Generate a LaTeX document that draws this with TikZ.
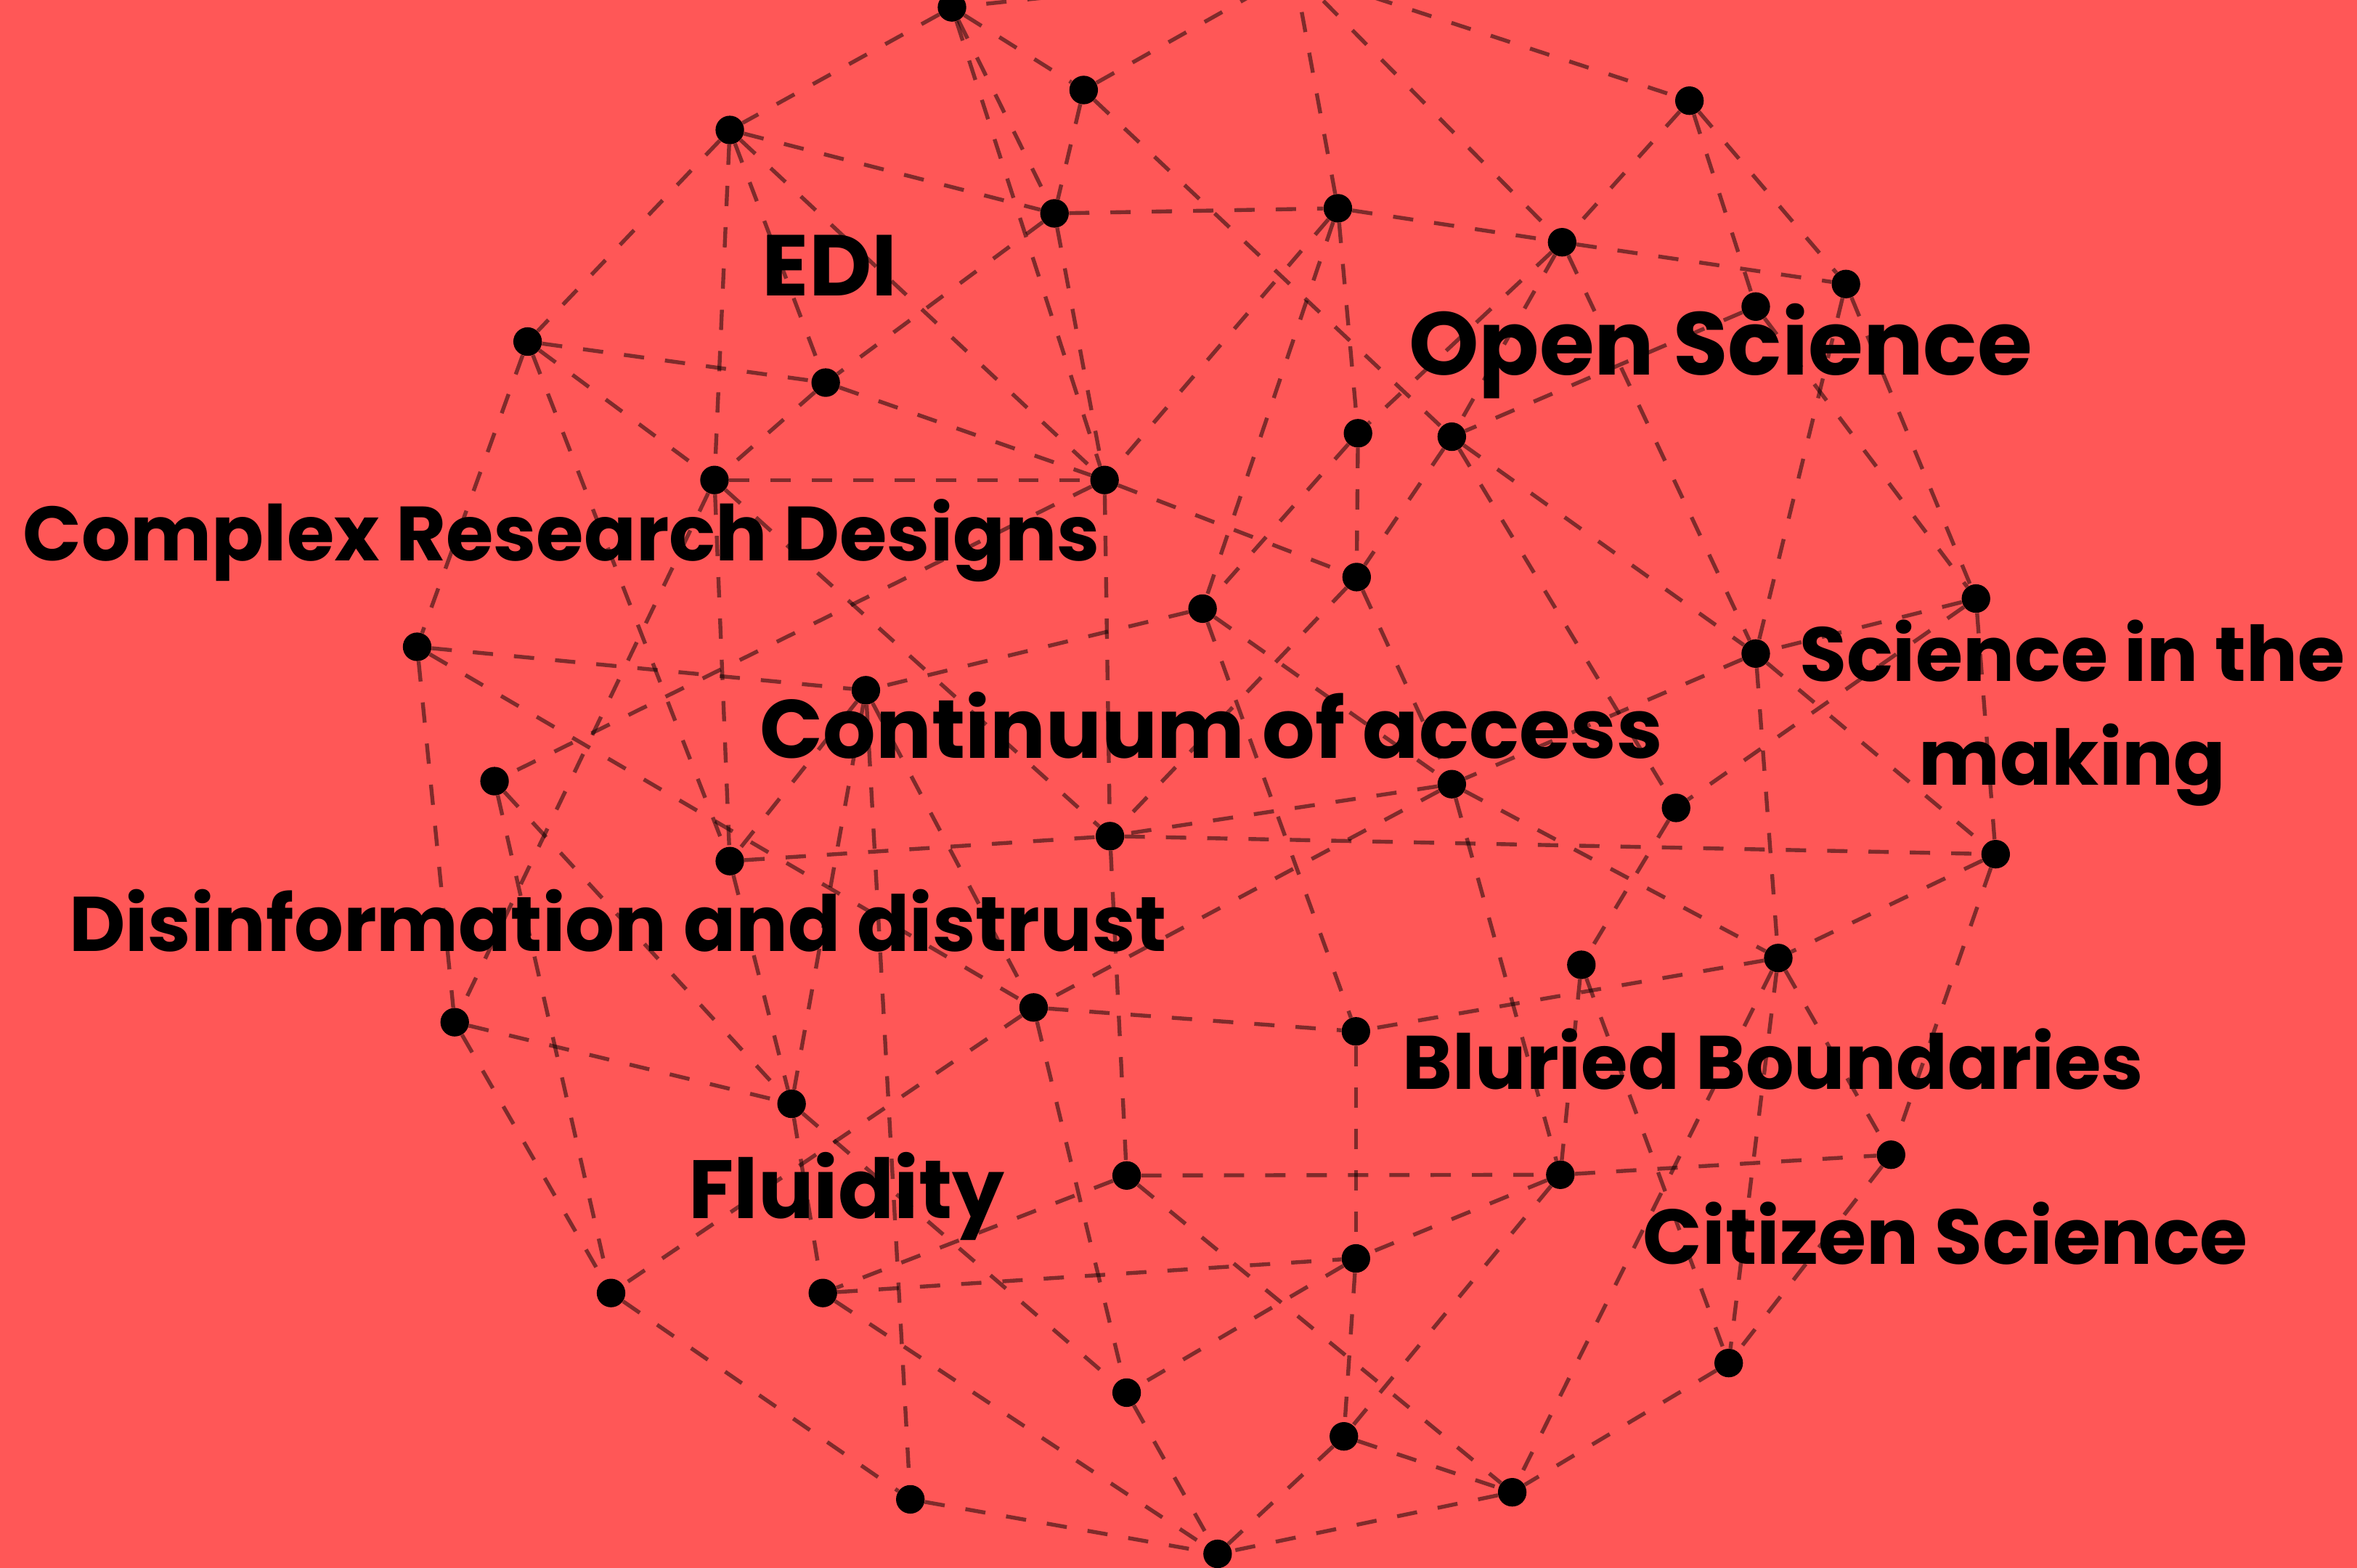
\documentclass[tikz,border=0pt]{standalone}
\usepackage{fontspec}
\newfontfamily\pop{Poppins}
\definecolor{bgred}{HTML}{FF5757}
\tikzset{
  dot/.style={circle,fill=black,draw=none,inner sep=0pt,minimum size=19pt},
  edge/.style={draw=black,draw opacity=0.5,line width=2.6pt,dash pattern=on 13.5pt off 14pt},
  lab/.style={inner sep=0pt,text=black},
  fs/.style={lab,font={\pop\bfseries\fontsize{#1}{69}\selectfont}}
}
\begin{document}
\begin{tikzpicture}[x=1pt,y=-1pt]
\useasboundingbox (0,0) rectangle (1568,1043.4);
\fill[bgred] (0,0) rectangle (1568,1043.4);
\clip (0,0) rectangle (1568,1043.4);
\coordinate (top) at (861,-19);
\node[dot] (n1) at (633.3,4.9) {};
\node[dot] (n2) at (720.9,59.9) {};
\node[dot] (n3) at (485.5,86.5) {};
\node[dot] (n4) at (701.5,142) {};
\node[dot] (n5) at (890,138.6) {};
\node[dot] (n6) at (1123.9,67) {};
\node[dot] (n7) at (1039.2,161.2) {};
\node[dot] (n8) at (1228,189) {};
\node[dot] (n9) at (1168,204) {};
\node[dot] (n10) at (351,227.3) {};
\node[dot] (n11) at (549.3,254.6) {};
\node[dot] (n12) at (475.3,319.4) {};
\node[dot] (n13) at (734.8,319.4) {};
\node[dot] (n14) at (903.4,288.3) {};
\node[dot] (n15) at (965.8,290.6) {};
\node[dot] (n16) at (902.5,384) {};
\node[dot] (n17) at (800,405) {};
\node[dot] (n18) at (1314.5,398.3) {};
\node[dot] (n19) at (1168,434.9) {};
\node[dot] (n20) at (277.5,430.4) {};
\node[dot] (n21) at (576,459.3) {};
\node[dot] (n22) at (329,519.8) {};
\node[dot] (n23) at (965.8,521.8) {};
\node[dot] (n24) at (1115,537.6) {};
\node[dot] (n25) at (485.5,573) {};
\node[dot] (n26) at (738.4,556.4) {};
\node[dot] (n27) at (1327.6,568.4) {};
\node[dot] (n28) at (1052,642) {};
\node[dot] (n29) at (1183,637.5) {};
\node[dot] (n30) at (302.5,680.2) {};
\node[dot] (n31) at (687.6,670.4) {};
\node[dot] (n32) at (902,686.3) {};
\node[dot] (n33) at (526.6,734.5) {};
\node[dot] (n34) at (749.5,782.2) {};
\node[dot] (n35) at (1038,781.7) {};
\node[dot] (n36) at (1258,768.4) {};
\node[dot] (n37) at (406.5,860.4) {};
\node[dot] (n38) at (547.4,860.4) {};
\node[dot] (n39) at (902,837.4) {};
\node[dot] (n40) at (1150,907) {};
\node[dot] (n41) at (749.5,926.7) {};
\node[dot] (n42) at (894,955.8) {};
\node[dot] (n43) at (1006,993) {};
\node[dot] (n44) at (605.6,997.7) {};
\node[dot] (n45) at (810,1034) {};
\foreach \a/\b in {top/n1,top/n2,top/n5,top/n6,top/n7,
  n1/n2,n1/n3,n1/n4,n1/n13,n2/n4,n2/n15,
  n3/n4,n3/n10,n3/n11,n3/n12,n3/n13,
  n4/n5,n4/n11,n4/n13,n5/n7,n5/n13,n5/n14,n5/n17,
  n6/n7,n6/n8,n6/n9,n7/n8,n7/n14,n7/n15,n7/n19,
  n8/n18,n8/n19,n9/n15,n9/n18,
  n10/n11,n10/n12,n10/n20,n10/n25,n11/n12,n11/n13,
  n12/n13,n12/n25,n12/n26,n12/n30,n13/n16,n13/n22,n13/n26,
  n14/n16,n14/n17,n15/n16,n15/n19,n15/n24,n16/n23,n16/n26,
  n17/n21,n17/n23,n17/n32,n18/n19,n18/n24,n18/n27,
  n19/n23,n19/n27,n19/n29,n20/n21,n20/n30,n20/n31,
  n21/n25,n21/n31,n21/n33,n21/n44,n22/n33,n22/n37,
  n23/n26,n23/n29,n23/n31,n23/n35,n24/n28,
  n25/n26,n25/n33,n26/n27,n26/n34,n27/n29,n27/n36,
  n28/n35,n28/n40,n29/n32,n29/n36,n29/n40,n29/n43,
  n30/n33,n30/n37,n31/n32,n31/n37,n31/n41,n32/n39,
  n33/n38,n33/n41,n34/n35,n34/n38,n34/n43,
  n35/n36,n35/n39,n35/n42,n36/n40,n37/n44,
  n38/n39,n38/n45,n39/n41,n39/n42,n40/n43,n41/n45,
  n42/n43,n42/n45,n43/n45,n44/n45}
  {\draw[edge] (\a) -- (\b);}
\node[fs=57.5,anchor=base west] (edi) at (507,196.7) {EDI};
\node[fs=59.3,anchor=base west] (open) at (937,249.5) {Open Science};
\node[fs=51.2,anchor=base west] (crd) at (15,373.3) {Complex Research Designs};
\node[fs=55.1,anchor=base west] (coa) at (505.5,504.7) {Continuum of access};
\node[fs=51,anchor=base,align=center] (sitm) at (1378.5,522.5) {Science in the\\making};
\node[fs=51.5,anchor=base west] (dis) at (45.7,633.1) {Disinformation and distrust};
\node[fs=50.5,anchor=base west] (blur) at (933,724.7) {Bluried Boundaries};
\node[fs=55,anchor=base west] (flu) at (457.8,810.9) {Fluidity};
\node[fs=51.7,anchor=base west] (cit) at (1092.9,841.3) {Citizen Science};
\end{tikzpicture}
\end{document}
